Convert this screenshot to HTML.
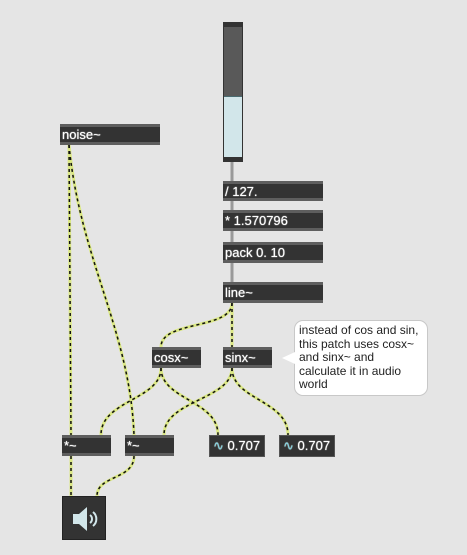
<!DOCTYPE html>
<html><head><style>
body{margin:0;width:467px;height:555px;background:#e5e5e5;position:relative;overflow:hidden;font-family:"Liberation Sans",sans-serif}
.b{position:absolute;background:#333;border-top:3px solid #5e5e5e;border-bottom:3px solid #5e5e5e;box-sizing:border-box;color:#fff;font-size:13px;line-height:15px;padding-left:2px;white-space:nowrap;text-shadow:0 0 1px #fff}
.n{position:absolute;background:#333;border:1px solid #555;box-sizing:border-box;color:#fff;font-size:13px;line-height:19px;padding-left:3px;text-shadow:0 0 1px #fff}
.c{position:absolute;background:#fff;border:1px solid #c8c8c8;border-radius:9px;font-size:12px;line-height:13.5px;color:#222;padding:3px 4px;box-sizing:border-box}
svg{position:absolute;left:0;top:0}
</style></head><body>
<div style="position:absolute;left:223px;top:22px;width:20px;height:140px;background:#595959;border:1px solid #333;box-sizing:border-box"></div>
<div style="position:absolute;left:224px;top:97px;width:18px;height:60px;background:#d2e6ea"></div>
<div style="position:absolute;left:224px;top:96px;width:18px;height:1px;background:#4a6b70"></div>
<div style="position:absolute;left:223px;top:22px;width:20px;height:5px;background:#333"></div>
<div style="position:absolute;left:223px;top:157px;width:20px;height:5px;background:#333"></div>

<svg width="467" height="555">
<g fill="none" stroke="#999" stroke-width="3">
<path d="M232 162V181M232 200V210M232 231V242M232 263V282"/>
</g>
<g fill="none" stroke="#dbe884" stroke-width="3">
<path d="M69 145 L71 435"/>
<path d="M69 145 C80 260 130 330 134 435"/>
<path d="M232 303 C232 330 161 320 161 347"/>
<path d="M232 303 V347"/>
<path d="M161 368 C161 400 101 400 101 435"/>
<path d="M161 368 C161 400 218 400 218 435"/>
<path d="M232 368 C232 400 164 400 164 435"/>
<path d="M232 368 C232 400 288 400 288 435"/>
<path d="M71 456 V496"/>
<path d="M134 456 C134 480 97 475 97 496"/>
</g>
<g fill="none" stroke="#111" stroke-width="1.5" stroke-dasharray="3 3">
<path d="M69 145 L71 435"/>
<path d="M69 145 C80 260 130 330 134 435"/>
<path d="M232 303 C232 330 161 320 161 347"/>
<path d="M232 303 V347"/>
<path d="M161 368 C161 400 101 400 101 435"/>
<path d="M161 368 C161 400 218 400 218 435"/>
<path d="M232 368 C232 400 164 400 164 435"/>
<path d="M232 368 C232 400 288 400 288 435"/>
<path d="M71 456 V496"/>
<path d="M134 456 C134 480 97 475 97 496"/>
</g>
</svg>

<div class="b" style="left:60px;top:124px;width:100px;height:21px">noise~</div>
<div class="b" style="left:223px;top:181px;width:100px;height:20px">/ 127.</div>
<div class="b" style="left:223px;top:210px;width:100px;height:21px">* 1.570796</div>
<div class="b" style="left:223px;top:242px;width:100px;height:21px">pack 0. 10</div>
<div class="b" style="left:223px;top:282px;width:100px;height:21px">line~</div>
<div class="b" style="left:152px;top:347px;width:49px;height:21px">cosx~</div>
<div class="b" style="left:223px;top:347px;width:49px;height:21px">sinx~</div>
<div class="b" style="left:62px;top:435px;width:49px;height:21px">*~</div>
<div class="b" style="left:125px;top:435px;width:49px;height:21px">*~</div>
<div class="n" style="left:209px;top:435px;width:56px;height:22px"><span style="color:#7fd3e0">∿</span> 0.707</div>
<div class="n" style="left:279px;top:435px;width:56px;height:22px"><span style="color:#7fd3e0">∿</span> 0.707</div>
<div class="c" style="left:294px;top:320px;width:134px;height:76px">instead of cos and sin, this patch uses cosx~ and sinx~ and calculate it in audio world</div>
<div style="position:absolute;left:282px;top:352px;width:0;height:0;border-top:6px solid transparent;border-bottom:6px solid transparent;border-right:13px solid #fff"></div>
<div style="position:absolute;left:62px;top:496px;width:44px;height:44px;background:#333;border:1px solid #222;box-sizing:border-box">
<svg width="44" height="44"><path d="M10 17h6l8-7v24l-8-7h-6z" fill="#d2e6ea"/><g fill="none" stroke="#d2e6ea" stroke-width="2"><path d="M27 18a5 5 0 0 1 0 8"/><path d="M30 15a9 9 0 0 1 0 14"/></g></svg></div>
</body></html>
